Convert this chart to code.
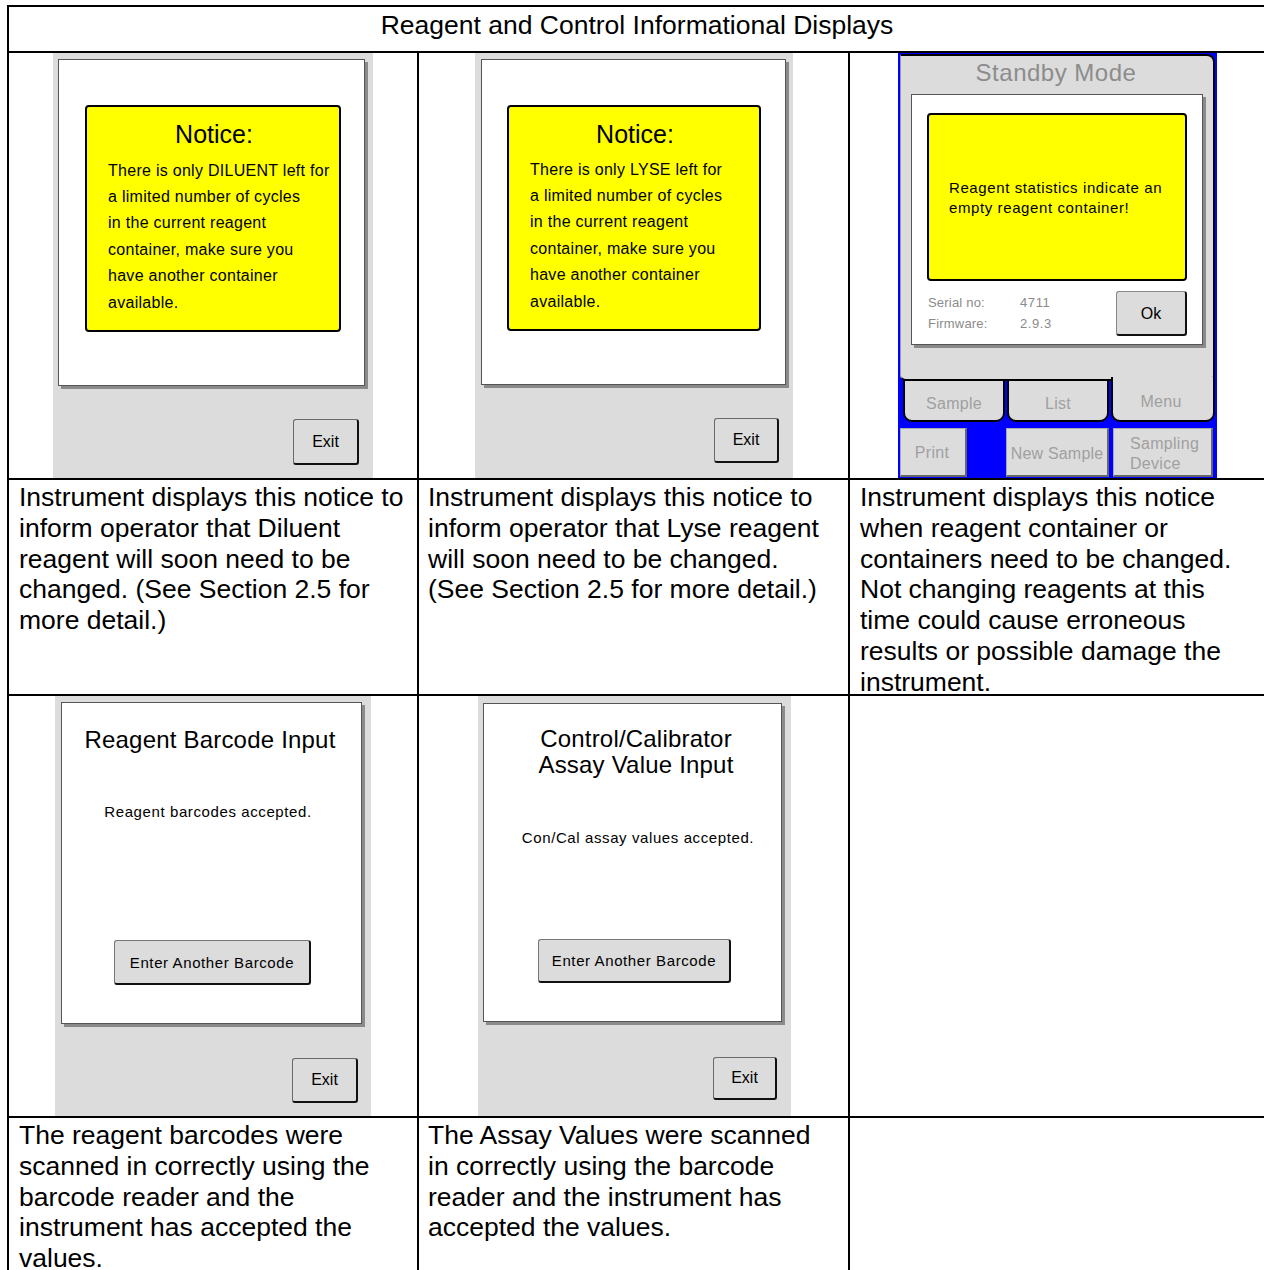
import React from "react";

// ---- Content (text only; the reference is a document table of instrument screens, not a data chart) ----
const TITLE = "Reagent and Control Informational Displays";

const CAPTION_DILUENT = [
  "Instrument displays this notice to",
  "inform operator that Diluent",
  "reagent will soon need to be",
  "changed. (See Section 2.5 for",
  "more detail.)",
];
const CAPTION_LYSE = [
  "Instrument displays this notice to",
  "inform operator that Lyse reagent",
  "will soon need to be changed.",
  "(See Section 2.5 for more detail.)",
];
const CAPTION_EMPTY = [
  "Instrument displays this notice",
  "when reagent container or",
  "containers need to be changed.",
  "Not changing reagents at this",
  "time could cause erroneous",
  "results or possible damage the",
  "instrument.",
];
const CAPTION_BARCODE = [
  "The reagent barcodes were",
  "scanned in correctly using the",
  "barcode reader and the",
  "instrument has accepted the",
  "values.",
];
const CAPTION_ASSAY = [
  "The Assay Values were scanned",
  "in correctly using the barcode",
  "reader and the instrument has",
  "accepted the values.",
];

const NOTICE_DILUENT = [
  "There is only DILUENT left for",
  "a limited number of cycles",
  "in the current reagent",
  "container, make sure you",
  "have another container",
  "available.",
];
const NOTICE_LYSE = [
  "There is only LYSE left for",
  "a limited number of cycles",
  "in the current reagent",
  "container, make sure you",
  "have another container",
  "available.",
];
const EMPTY_MSG = ["Reagent statistics indicate an", "empty reagent container!"];
const INFO_LABELS = ["Serial no:", "Firmware:"];
const INFO_VALUES = ["4711", "2.9.3"];
const TABS = ["Sample", "List", "Menu"];
const BOTTOM_BUTTONS = ["Print", "New Sample"];
const SAMPLING_DEVICE = ["Sampling", "Device"];
const BARCODE_TITLE = ["Reagent Barcode Input"];
const BARCODE_MSG = "Reagent barcodes accepted.";
const ASSAY_TITLE = ["Control/Calibrator", "Assay Value Input"];
const ASSAY_MSG = "Con/Cal assay values accepted.";
const ENTER_BTN = "Enter Another Barcode";

const DOC_FONT = '"Liberation Sans", Arial, Helvetica, sans-serif';
const UI_FONT = '"Liberation Sans", Arial, Helvetica, sans-serif';
const GREY = "#dcdcdc";

type BoxProps = { x: number; y: number; w: number; h: number; style?: React.CSSProperties; children?: React.ReactNode };
function Box({ x, y, w, h, style, children }: BoxProps) {
  return (
    <div style={{ position: "absolute", left: x, top: y, width: w, height: h, boxSizing: "border-box", ...style }}>
      {children}
    </div>
  );
}

type TxtProps = {
  x: number; cy: number; text: string; size: number; color?: string; center?: boolean;
  ls?: number; weight?: number; font?: string;
};
function Txt({ x, cy, text, size, color = "#000", center = false, ls = 0, weight = 400, font = UI_FONT }: TxtProps) {
  const lh = Math.round(size * 1.3);
  const w = center ? 600 : 800;
  return (
    <div
      style={{
        position: "absolute",
        left: center ? x - w / 2 : x,
        top: cy - lh / 2,
        width: w,
        height: lh,
        lineHeight: lh + "px",
        fontSize: size,
        fontFamily: font,
        fontWeight: weight,
        color,
        letterSpacing: ls,
        textAlign: center ? "center" : "left",
        whiteSpace: "pre",
      }}
    >
      {text}
    </div>
  );
}

function Lines({ x, cy, lines, step, size, center = false, ls = 0, color = "#000", font = UI_FONT }: {
  x: number; cy: number; lines: string[]; step: number; size: number; center?: boolean; ls?: number; color?: string; font?: string;
}) {
  return (
    <>
      {lines.map((t, i) => (
        <Txt key={i} x={x} cy={cy + i * step} text={t} size={size} center={center} ls={ls} color={color} font={font} />
      ))}
    </>
  );
}

function ExitButton({ x, y, w, h }: { x: number; y: number; w: number; h: number }) {
  return (
    <Box x={x} y={y} w={w} h={h} style={{
      background: GREY, borderStyle: "solid", borderColor: "#6a6a6a #111 #111 #6a6a6a",
      borderWidth: "1px 2px 2px 1px", borderRadius: 3,
    }}>
      <div style={{ position: "absolute", inset: 0, display: "flex", alignItems: "center", justifyContent: "center", fontFamily: UI_FONT, fontSize: 16, color: "#000" }}>Exit</div>
    </Box>
  );
}

function WhiteCard({ x, y, w, h }: { x: number; y: number; w: number; h: number }) {
  return <Box x={x} y={y} w={w} h={h} style={{ background: "#fff", border: "1px solid #555", boxShadow: "3px 3px 0 #8a8a8a" }} />;
}

function YellowBox({ x, y, w, h }: { x: number; y: number; w: number; h: number }) {
  return <Box x={x} y={y} w={w} h={h} style={{ background: "#ffff00", border: "2px solid #000", borderRadius: 4 }} />;
}

function NoticeScreen({ gx, gw, card, yel, cx, bodyX, bodyY, lines, exit }: {
  gx: number; gw: number; card: number[]; yel: number[]; cx: number; bodyX: number; bodyY: number; lines: string[]; exit: number[];
}) {
  return (
    <>
      <Box x={gx} y={53} w={gw} h={426} style={{ background: GREY }} />
      <WhiteCard x={card[0]} y={card[1]} w={card[2]} h={card[3]} />
      <YellowBox x={yel[0]} y={yel[1]} w={yel[2]} h={yel[3]} />
      <Txt x={cx} cy={134} text="Notice:" size={25} center />
      <Lines x={bodyX} cy={bodyY} lines={lines} step={26.4} size={16} ls={0.28} />
      <ExitButton x={exit[0]} y={exit[1]} w={exit[2]} h={exit[3]} />
    </>
  );
}

function EnterButton({ x, y, w, h }: { x: number; y: number; w: number; h: number }) {
  return (
    <Box x={x} y={y} w={w} h={h} style={{
      background: GREY, borderStyle: "solid", borderColor: "#777 #111 #111 #777",
      borderWidth: "1px 2px 2px 1px", borderRadius: 3,
    }}>
      <div style={{ position: "absolute", inset: 0, display: "flex", alignItems: "center", justifyContent: "center", fontFamily: UI_FONT, fontSize: 15, letterSpacing: 0.6, color: "#000" }}>{ENTER_BTN}</div>
    </Box>
  );
}

function StandbyScreen() {
  const tabStyle: React.CSSProperties = {
    background: GREY, border: "2px solid #000", borderRadius: "0 0 9px 9px",
  };
  const btnStyle: React.CSSProperties = {
    background: GREY, borderStyle: "solid", borderColor: "#aaa #666 #666 #aaa", borderWidth: "1px 2px 2px 1px",
  };
  return (
    <>
      <Box x={898} y={53} w={319} h={426} style={{ background: "#0000ff" }} />
      <Box x={900} y={54} w={315} h={327} style={{
        background: GREY, borderStyle: "solid", borderColor: "#000 #000 #000 #999", borderWidth: "2px 2px 2px 1px", borderRadius: "2px 8px 6px 6px",
      }} />
      <Txt x={1056} cy={72} text="Standby Mode" size={24} color="#8c8c8c" center ls={0.5} />
      <WhiteCard x={911} y={94} w={292} h={251} />
      <YellowBox x={927} y={113} w={260} h={168} />
      <Lines x={949} cy={188} lines={EMPTY_MSG} step={20} size={15} ls={0.6} />
      <Lines x={928} cy={302} lines={INFO_LABELS} step={21} size={13} ls={0.2} color="#8a8a8a" />
      <Lines x={1020} cy={302} lines={INFO_VALUES} step={21} size={13} ls={0.6} color="#8a8a8a" />
      <Box x={1116} y={291} w={71} h={45} style={{
        background: GREY, borderStyle: "solid", borderColor: "#888 #111 #111 #888", borderWidth: "1px 2px 2px 1px", borderRadius: 3,
      }} />
      <Txt x={1151} cy={313} text="Ok" size={16} center />
      {/* tabs */}
      <Box x={903} y={379} w={102} h={43} style={tabStyle} />
      <Box x={1007} y={379} w={102} h={43} style={tabStyle} />
      <Box x={1111} y={377} w={104} h={45} style={{ ...tabStyle, borderTop: "none" }} />
      <Txt x={954} cy={403} text={TABS[0]} size={16} color="#a0a0a0" center ls={0.3} />
      <Txt x={1058} cy={403} text={TABS[1]} size={16} color="#a0a0a0" center ls={0.3} />
      <Txt x={1161} cy={401} text={TABS[2]} size={16} color="#a0a0a0" center ls={0.3} />
      {/* bottom buttons */}
      <Box x={900} y={428} w={67} h={49} style={btnStyle} />
      <Box x={1006} y={428} w={103} h={49} style={btnStyle} />
      <Box x={1113} y={428} w={100} h={49} style={btnStyle} />
      <Txt x={932} cy={452} text={BOTTOM_BUTTONS[0]} size={16} color="#a0a0a0" center ls={0.3} />
      <Txt x={1057} cy={453} text={BOTTOM_BUTTONS[1]} size={16} color="#a0a0a0" center ls={0.2} />
      <Lines x={1130} cy={443} lines={SAMPLING_DEVICE} step={20} size={16} color="#a0a0a0" ls={0.3} />
    </>
  );
}

function Caption({ x, top, lines }: { x: number; top: number; lines: string[] }) {
  return <Lines x={x} cy={top} lines={lines} step={30.8} size={26.5} font={DOC_FONT} />;
}

const H_LINES = [6, 52, 479, 695, 1117];
// [x, top]: the inner column rules start below the full-width header row
const V_LINES = [[8, 5], [418, 52], [849, 52]];

export default function App() {
  return (
    <div style={{ position: "absolute", left: 0, top: 0, width: 1264, height: 1270, overflow: "hidden", background: "#fff" }}>
      {/* header */}
      <Txt x={637} cy={25} text={TITLE} size={26.5} center font={DOC_FONT} />

      {/* row 1 screens */}
      <NoticeScreen gx={53} gw={320} card={[58, 59, 307, 327]} yel={[85, 105, 256, 227]} cx={214} bodyX={108} bodyY={170} lines={NOTICE_DILUENT} exit={[293, 419, 66, 46]} />
      <NoticeScreen gx={475} gw={318} card={[481, 59, 305, 326]} yel={[507, 105, 254, 226]} cx={635} bodyX={530} bodyY={169} lines={NOTICE_LYSE} exit={[714, 418, 65, 45]} />
      <StandbyScreen />

      {/* row 1 captions */}
      <Caption x={19} top={497} lines={CAPTION_DILUENT} />
      <Caption x={428} top={497} lines={CAPTION_LYSE} />
      <Caption x={860} top={497} lines={CAPTION_EMPTY} />

      {/* row 2 screens */}
      <Box x={55} y={696} w={316} h={421} style={{ background: GREY }} />
      <WhiteCard x={61} y={702} w={301} h={322} />
      <Lines x={210} cy={739} lines={BARCODE_TITLE} step={26} size={24} center ls={0.2} />
      <Txt x={208} cy={812} text={BARCODE_MSG} size={15} center ls={0.6} />
      <EnterButton x={114} y={940} w={197} h={45} />
      <ExitButton x={292} y={1058} w={66} h={45} />

      <Box x={478} y={696} w={313} h={421} style={{ background: GREY }} />
      <WhiteCard x={483} y={703} w={299} h={319} />
      <Lines x={636} cy={738} lines={ASSAY_TITLE} step={26} size={24} center ls={0.2} />
      <Txt x={638} cy={838} text={ASSAY_MSG} size={15} center ls={0.6} />
      <EnterButton x={538} y={939} w={193} h={44} />
      <ExitButton x={713} y={1057} w={64} h={43} />

      {/* row 2 captions */}
      <Caption x={19} top={1135} lines={CAPTION_BARCODE} />
      <Caption x={428} top={1135} lines={CAPTION_ASSAY} />

      {/* table rules */}
      {H_LINES.map((y, i) => (
        <Box key={"h" + i} x={8} y={y - 1} w={1256} h={2} style={{ background: "#000" }} />
      ))}
      {V_LINES.map(([x, top], i) => (
        <Box key={"v" + i} x={x - 1} y={top} w={2} h={1270 - top} style={{ background: "#000" }} />
      ))}
    </div>
  );
}
